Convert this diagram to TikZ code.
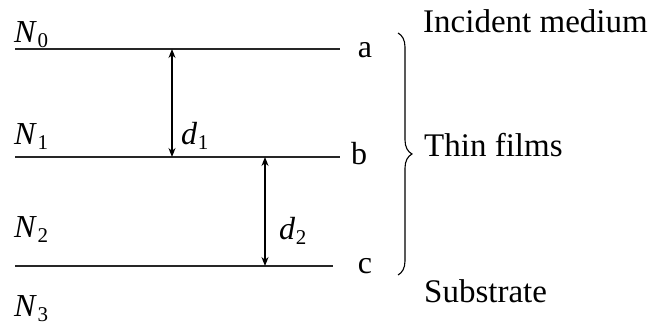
\documentclass[tikz,border=0pt]{standalone}
\usepackage{fontspec}
\setmainfont{Liberation Serif}
\usetikzlibrary{arrows.meta,decorations.pathreplacing}
\newcommand{\symsub}[2]{\textit{#1}\kern0.5pt\raisebox{-5pt}{\fontsize{21}{24}\selectfont #2}}
\begin{document}
\begin{tikzpicture}[x=1pt,y=1pt,
  layer/.style={line width=1.6pt,draw=black!85},
  gap/.style={line width=1.3pt,{Stealth[length=9pt,width=7pt]}-{Stealth[length=9pt,width=7pt]}},
  lbl/.style={font=\fontsize{32}{36}\selectfont,inner sep=0pt,anchor=base west},
  txt/.style={font=\fontsize{33}{36}\selectfont,inner sep=0pt,anchor=base west}]
\useasboundingbox (0,0) rectangle (657,327);
% interface lines
\coordinate (a0) at (15,278); \coordinate (a1) at (340,278);
\coordinate (b0) at (15,170); \coordinate (b1) at (340,170);
\coordinate (c0) at (15,61);  \coordinate (c1) at (333,61);
\draw[layer] (a0) -- (a1);
\draw[layer] (b0) -- (b1);
\draw[layer] (c0) -- (c1);
% labels a b c
\node[lbl,anchor=base] (la) at (365,269) {a};
\node[lbl,anchor=base] (lb) at (359,162) {b};
\node[lbl,anchor=base] (lc) at (365,53) {c};
% refractive indices
\node[lbl] (n0) at (14,284) {\symsub{N}{0}};
\node[lbl] (n1) at (14,182) {\symsub{N}{1}};
\node[lbl] (n2) at (14,89) {\symsub{N}{2}};
\node[lbl] (n3) at (14,10) {\symsub{N}{3}};
% thickness arrows
\coordinate (d1t) at (172,278); \coordinate (d1b) at (172,170);
\coordinate (d2t) at (265,170); \coordinate (d2b) at (265,61);
\draw[gap] (d1t) -- (d1b);
\draw[gap] (d2t) -- (d2b);
\node[lbl] (d1) at (181,182) {\symsub{d}{1}};
\node[lbl] (d2) at (279,87) {\symsub{d}{2}};
% brace
\coordinate (bt) at (398,294); \coordinate (bb) at (398,52);
\draw[line width=1.1pt,decorate,decoration={brace,amplitude=14pt,aspect=0.5}] (bt) -- (bb);
\node[txt] (inc) at (423,294) {Incident medium};
\node[txt] (thin) at (424,170) {Thin films};
\node[txt] (sub) at (424,24) {Substrate};
\end{tikzpicture}
\end{document}
